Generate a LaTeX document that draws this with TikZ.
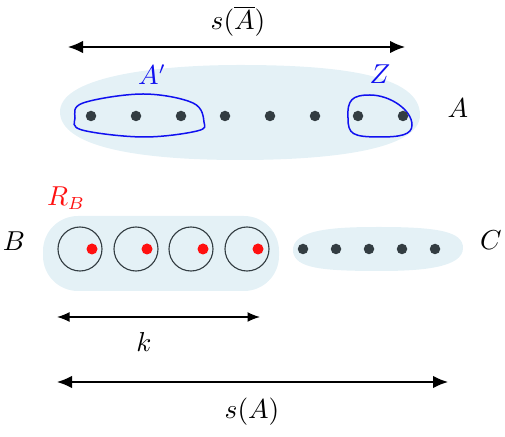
\documentclass[tikz,border=0pt]{standalone}
\usetikzlibrary{arrows.meta}
\definecolor{blobfill}{HTML}{E4F1F6}
\definecolor{dotgray}{HTML}{333D42}
\definecolor{myblue}{HTML}{1010F0}
\definecolor{myred}{HTML}{FF1010}
\begin{document}
\begin{tikzpicture}[x=0.4pt,y=-0.4pt,
  font=\fontsize{10.6}{12}\selectfont,
  vtx/.style={circle,fill=dotgray,inner sep=0pt,minimum size=4.2pt},
  rdot/.style={circle,fill=myred,inner sep=0pt,minimum size=4.4pt},
  ring/.style={circle,draw=dotgray,line width=0.45pt,inner sep=0pt,minimum size=17.6pt},
  blob/.style={fill=blobfill,draw=none},
  setline/.style={draw=myblue,line width=0.6pt},
  dimarrow/.style={{Latex[length=6pt,width=5pt]}-{Latex[length=6pt,width=5pt]},line width=0.6pt},
  smallarrow/.style={{Latex[length=5pt,width=4pt]}-{Latex[length=5pt,width=4pt]},line width=0.6pt}]
\useasboundingbox (0,0) rectangle (505,437);

% top blob
\fill[blob] (60,113) .. controls (58,78) and (150,65) .. (240,65)
  .. controls (340,65) and (420,75) .. (420,115)
  .. controls (420,150) and (330,160) .. (240,160)
  .. controls (130,160) and (62,145) .. (60,113) -- cycle;
% B blob
\fill[blob,rounded corners=14pt] (43,216) rectangle (279,291);
% C blob
\fill[blob] (293,252) .. controls (290,228) and (340,227) .. (380,227)
  .. controls (440,227) and (463,232) .. (463,248)
  .. controls (463,268) and (420,271) .. (380,271)
  .. controls (320,271) and (296,268) .. (293,252) -- cycle;

% A' and Z outlines
\draw[setline] plot[smooth cycle,tension=0.6] coordinates {(83,103) (143,94) (193,103) (204,122) (197,131) (143,137) (82,130) (75,118)};
\draw[setline] (348,118) .. controls (347,100) and (352,95) .. (370,95)
  .. controls (390,95) and (412,110) .. (412,125)
  .. controls (412,135) and (400,137) .. (380,137)
  .. controls (352,137) and (348,134) .. (348,118) -- cycle;

% top dots
\foreach \x [count=\i] in {91,136,181,225,270,315,358,403}
  \node[vtx] (a\i) at (\x,116) {};

% B rings and red dots
\foreach \x/\r [count=\i] in {80/92,136/147,191/203,247/258}{
  \node[ring] (c\i) at (\x,249) {};
  \node[rdot] (r\i) at (\r,249) {};
}

% C dots
\foreach \x [count=\i] in {303,336,369,402,435}
  \node[vtx] (cc\i) at (\x,249) {};

% labels
\node[text=myblue] (lAp) at (152,75) {$A'$};
\node[text=myblue] (lZ) at (380,74) {$Z$};
\node (lA) at (458,108) {$A$};
\node[text=myred] (lRB) at (66,198) {$R_B$};
\node (lB) at (14,241) {$B$};
\node (lC) at (491,240) {$C$};
\node (lsAbar) at (238,21) {$s(\overline{A})$};
\node (lk) at (144,342) {$k$};
\node (lsA) at (252,412) {$s(A)$};

% dimension arrows
\coordinate (t1) at (68,47);
\coordinate (t2) at (405,47);
\coordinate (k1) at (57,317);
\coordinate (k2) at (260,317);
\coordinate (b1) at (57,382);
\coordinate (b2) at (448,382);
\draw[dimarrow] (t1) -- (t2);
\draw[smallarrow] (k1) -- (k2);
\draw[dimarrow] (b1) -- (b2);
\end{tikzpicture}
\end{document}
